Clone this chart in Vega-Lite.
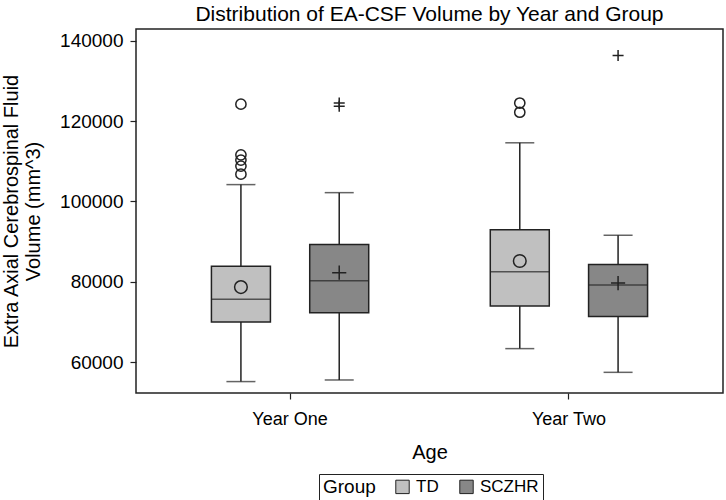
{
  "$schema": "https://vega.github.io/schema/vega-lite/v6.json",
  "width": 587,
  "height": 364,
  "autosize": {"type": "none"},
  "padding": {"left": 136, "top": 29, "right": 3, "bottom": 107},
  "background": "white",
  "title": {"text": "Distribution of EA-CSF Volume by Year and Group", "fontSize": 21, "fontWeight": "normal", "font": "Liberation Sans", "color": "black", "offset": 4},
  "datasets": {
    "stats": [
      {"Age": "Year One", "Group": "TD", "lo": 55200, "q1": 70000, "med": 75700, "q3": 83900, "hi": 104200, "mean": 78700},
      {"Age": "Year One", "Group": "SCZHR", "lo": 55600, "q1": 72300, "med": 80300, "q3": 89300, "hi": 102200, "mean": 82300},
      {"Age": "Year Two", "Group": "TD", "lo": 63400, "q1": 74000, "med": 82500, "q3": 93000, "hi": 114600, "mean": 85200},
      {"Age": "Year Two", "Group": "SCZHR", "lo": 57500, "q1": 71400, "med": 79200, "q3": 84300, "hi": 91600, "mean": 79700}
    ],
    "outliers": [
      {"Age": "Year One", "Group": "TD", "value": 124200},
      {"Age": "Year One", "Group": "TD", "value": 111600},
      {"Age": "Year One", "Group": "TD", "value": 110300},
      {"Age": "Year One", "Group": "TD", "value": 108800},
      {"Age": "Year One", "Group": "TD", "value": 106800},
      {"Age": "Year One", "Group": "SCZHR", "value": 124500},
      {"Age": "Year One", "Group": "SCZHR", "value": 123700},
      {"Age": "Year Two", "Group": "TD", "value": 124500},
      {"Age": "Year Two", "Group": "TD", "value": 122200},
      {"Age": "Year Two", "Group": "SCZHR", "value": 136300}
    ]
  },
  "encoding": {
    "x": {"field": "Age", "type": "nominal", "sort": ["Year One", "Year Two"],
      "scale": {"paddingInner": 0.295, "paddingOuter": 0.2},
      "axis": {"title": "Age", "labelAngle": 0, "domain": false, "tickSize": 6, "labelPadding": 11, "titlePadding": 14, "labelFontSize": 18}},
    "xOffset": {"field": "Group", "type": "nominal", "sort": ["TD", "SCZHR"], "scale": {"domain": ["TD", "SCZHR"], "paddingInner": 0, "paddingOuter": 0}}
  },
  "layer": [
    {
      "data": {"name": "stats"},
      "mark": {"type": "rule", "color": "#222", "strokeWidth": 1.5},
      "encoding": {
        "y": {"field": "lo", "type": "quantitative",
          "scale": {"domain": [52360, 142910], "nice": false, "zero": false},
          "axis": {"title": ["Extra Axial Cerebrospinal Fluid", "Volume (mm^3)"], "values": [60000, 80000, 100000, 120000, 140000], "format": "d", "domain": false, "grid": false, "tickSize": 6, "labelPadding": 7, "labelFontSize": 19, "titlePadding": 16, "titleLineHeight": 22}},
        "y2": {"field": "hi"}
      }
    },
    {
      "data": {"name": "stats"},
      "mark": {"type": "tick", "orient": "horizontal", "color": "#222", "size": 29, "thickness": 1.5},
      "encoding": {"y": {"field": "lo", "type": "quantitative"}}
    },
    {
      "data": {"name": "stats"},
      "mark": {"type": "tick", "orient": "horizontal", "color": "#222", "size": 29, "thickness": 1.5},
      "encoding": {"y": {"field": "hi", "type": "quantitative"}}
    },
    {
      "data": {"name": "stats"},
      "mark": {"type": "bar", "size": 59, "stroke": "#222", "strokeWidth": 1.5},
      "encoding": {
        "y": {"field": "q1", "type": "quantitative"},
        "y2": {"field": "q3"},
        "fill": {"field": "Group", "type": "nominal", "sort": ["TD", "SCZHR"],
          "scale": {"domain": ["TD", "SCZHR"], "range": ["#c0c0c0", "#878787"]},
          "legend": {"title": "Group", "orient": "none", "legendX": 183, "legendY": 445, "direction": "horizontal", "titleOrient": "left", "symbolType": "square", "symbolSize": 180, "symbolStrokeColor": "#222", "symbolStrokeWidth": 1, "strokeColor": "#222", "padding": 4, "titlePadding": 18, "columnPadding": 18, "labelOffset": 5}}
      }
    },
    {
      "data": {"name": "stats"},
      "mark": {"type": "tick", "orient": "horizontal", "color": "#222", "size": 59, "thickness": 1.5},
      "encoding": {"y": {"field": "med", "type": "quantitative"}}
    },
    {
      "data": {"name": "stats"},
      "transform": [{"filter": "datum.Group === 'TD'"}],
      "mark": {"type": "point", "shape": "circle", "filled": false, "stroke": "#222", "strokeWidth": 1.5, "opacity": 1, "size": 160},
      "encoding": {"y": {"field": "mean", "type": "quantitative"}}
    },
    {
      "data": {"name": "stats"},
      "transform": [{"filter": "datum.Group === 'SCZHR'"}],
      "mark": {"type": "point", "shape": "M-1,0H1M0,-1V1", "filled": false, "stroke": "#222", "strokeWidth": 1.5, "opacity": 1, "size": 200},
      "encoding": {"y": {"field": "mean", "type": "quantitative"}}
    },
    {
      "data": {"name": "outliers"},
      "transform": [{"filter": "datum.Group === 'TD'"}],
      "mark": {"type": "point", "shape": "circle", "filled": false, "stroke": "#222", "strokeWidth": 1.5, "opacity": 1, "size": 105},
      "encoding": {"y": {"field": "value", "type": "quantitative"}}
    },
    {
      "data": {"name": "outliers"},
      "transform": [{"filter": "datum.Group === 'SCZHR'"}],
      "mark": {"type": "point", "shape": "M-1,0H1M0,-1V1", "filled": false, "stroke": "#222", "strokeWidth": 1.5, "opacity": 1, "size": 121},
      "encoding": {"y": {"field": "value", "type": "quantitative"}}
    }
  ],
  "config": {
    "font": "Liberation Sans",
    "view": {"stroke": "#222", "strokeWidth": 1.5},
    "axis": {"labelFontSize": 17, "titleFontSize": 20, "titleFontWeight": "normal", "labelColor": "black", "titleColor": "black", "tickColor": "#222", "tickWidth": 1.2},
    "legend": {"labelFontSize": 17, "titleFontSize": 19, "titleFontWeight": "normal", "labelColor": "black", "titleColor": "black"}
  }
}
